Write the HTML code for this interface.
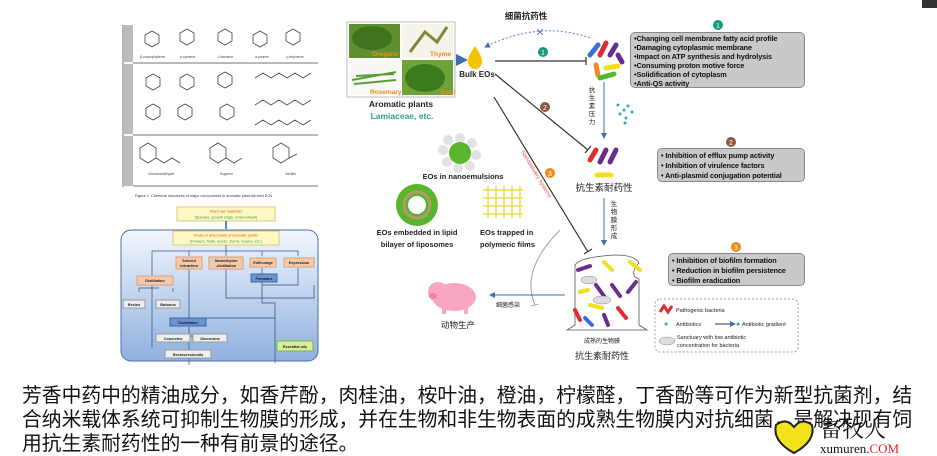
<!DOCTYPE html>
<html><head><meta charset="utf-8"><style>
body{margin:0;width:937px;height:456px;background:#fff;overflow:hidden;position:relative;font-family:"Liberation Sans","Noto Sans CJK SC",sans-serif}
.t{position:absolute;white-space:nowrap}
.box{position:absolute;background:#c9c9c9;border:1px solid #888;border-radius:5px;font:bold 7.3px "Liberation Sans",sans-serif;color:#111;line-height:9px;padding:1px 3px;box-sizing:border-box;white-space:nowrap;letter-spacing:-0.1px}
.para{position:absolute;left:22px;top:384px;width:905px;font-size:19.8px;line-height:24px;color:#111;font-family:"Liberation Sans","Noto Sans CJK SC",sans-serif}
</style></head><body>
<svg width="937" height="456" style="position:absolute;left:0;top:0" font-family="Liberation Sans, Noto Sans CJK SC, sans-serif">
<defs>
<linearGradient id="bg" x1="0" y1="0" x2="0" y2="1"><stop offset="0" stop-color="#f3f7fd"/><stop offset="1" stop-color="#8fb0de"/></linearGradient>
<marker id="ab" markerWidth="6" markerHeight="6" refX="5" refY="3" orient="auto"><path d="M0,0L6,3L0,6z" fill="#3d6fb0"/></marker>
</defs>
<g stroke="#444" fill="none" stroke-width="0.8">
<line x1="123" y1="25" x2="123" y2="187"/>
<rect x="123" y="25" width="10" height="37" fill="#bbb" stroke="none"/>
<rect x="123" y="64" width="10" height="70" fill="#bbb" stroke="none"/>
<rect x="123" y="136" width="10" height="50" fill="#bbb" stroke="none"/>
<line x1="133" y1="63" x2="318" y2="63"/><line x1="133" y1="135" x2="318" y2="135"/><line x1="133" y1="186" x2="318" y2="186"/>
<polygon points="145,35 152,31 159,35 159,43 152,47 145,43"/>
<polygon points="180,33 187,29 194,33 194,41 187,45 180,41"/>
<polygon points="218,33 225,29 232,33 232,41 225,45 218,41"/>
<polygon points="253,35 260,31 267,35 267,43 260,47 253,43"/>
<polygon points="286,33 293,29 300,33 300,41 293,45 286,41"/>
<polygon points="146,78 153,74 160,78 160,86 153,90 146,86"/>
<polygon points="180,78 187,74 194,78 194,86 187,90 180,86"/>
<polygon points="218,76 225,72 232,76 232,84 225,88 218,84"/>
<path d="M255,78 l8,-5 l8,5 l8,-5 l8,5 l8,-5 l8,5 l8,-5"/>
<polygon points="146,108 153,104 160,108 160,116 153,120 146,116"/>
<polygon points="178,108 185,104 192,108 192,116 185,120 178,116"/>
<polygon points="220,108 227,104 234,108 234,116 227,120 220,116"/>
<path d="M255,105 l8,-5 l8,5 l8,-5 l8,5 l8,-5 l8,5 l8,-5"/>
<path d="M255,125 l8,-5 l8,5 l8,-5 l8,5 l8,-5 l8,5 l8,-5"/>
<polygon points="140,148 148,143 156,148 156,158 148,163 140,158"/><path d="M156,158 l8,5 l8,-5 l8,5"/>
<polygon points="210,148 218,143 226,148 226,158 218,163 210,158"/><path d="M226,158 l8,5 l8,-5"/>
<polygon points="273,148 281,143 289,148 289,158 281,163 273,158"/><path d="M289,158 l8,-4"/>
</g>
<g font-size="3.5" fill="#444"><text x="140" y="58">β-caryophyllene</text><text x="180" y="58">p-cymene</text><text x="218" y="58">Limonene</text><text x="255" y="58">α-pinene</text><text x="286" y="58">γ-terpinene</text>
<text x="148" y="175">Cinnamaldehyde</text><text x="220" y="175">Eugenol</text><text x="285" y="175">Vanillin</text></g>
<text x="135" y="197" font-size="3.8" fill="#333">Figure 1. Chemical structures of major components in aromatic plant-derived EOs.</text>
<rect x="121" y="230" width="197" height="131" rx="10" fill="url(#bg)" stroke="#4a72aa"/>
<rect x="177" y="207" width="98" height="14" fill="#fff8c2" stroke="#d9c680"/>
<text x="226" y="212.5" font-size="3.8" fill="#d05a1a" text-anchor="middle">Plant raw materials</text>
<text x="226" y="218.5" font-size="3.8" fill="#3aa03a" text-anchor="middle">[Species, growth stage, environment]</text>
<path d="M226,221 v8" stroke="#5a7fc0" stroke-width="2"/>
<rect x="173" y="231" width="106" height="14" fill="#fff8c2" stroke="#d9c680"/>
<text x="226" y="236.5" font-size="3.8" fill="#d05a1a" text-anchor="middle">Fresh or dried parts of aromatic plants</text>
<text x="226" y="242.5" font-size="3.8" fill="#3aa03a" text-anchor="middle">[Flowers, fruits, seeds, stems, leaves, etc.]</text>
<g stroke="#2d4f86" fill="none" stroke-width="0.7">
<path d="M226,245 v6 M152,251 h146 M152,251 v97 M189,251 v5 M226,251 v5 M262,251 v5 M298,251 v5 M189,268 v97 M226,268 v30 h88 v-13 M262,268 v35 h13 v13 M298,268 v17 h-36 M275,303 v60 M139,288 h20 M139,288 v4 M173,288 v4 M200,318 h75 v30 M179,336 h35 M179,336 v4 M214,336 v4"/>
</g>
<g font-size="3.8" fill="#222" font-weight="bold" text-anchor="middle">
<rect x="176" y="257" width="26" height="12" fill="#f6c9a8" stroke="#d8a27e"/><text x="189" y="262">Solvent</text><text x="189" y="267">extraction</text>
<rect x="209" y="257" width="34" height="12" fill="#f6c9a8" stroke="#d8a27e"/><text x="226" y="262">Steam/hydro</text><text x="226" y="267">-distillation</text>
<rect x="250" y="258" width="26" height="9" fill="#f6c9a8" stroke="#d8a27e"/><text x="263" y="264">Enfleurage</text>
<rect x="284" y="258" width="30" height="9" fill="#f6c9a8" stroke="#d8a27e"/><text x="299" y="264">Expression</text>
<rect x="137" y="276" width="36" height="9" fill="#f6c9a8" stroke="#d8a27e"/><text x="155" y="282">Distillation</text>
<rect x="251" y="274" width="26" height="8" fill="#6b93d1" stroke="#3d66a6"/><text x="264" y="280">Pomades</text>
<rect x="123" y="300" width="22" height="8" fill="#eee" stroke="#999"/><text x="134" y="306">Resins</text>
<rect x="156" y="300" width="24" height="8" fill="#eee" stroke="#999"/><text x="168" y="306">Balsams</text>
<rect x="170" y="318" width="36" height="8" fill="#6b93d1" stroke="#3d66a6"/><text x="188" y="324">Distillation</text>
<rect x="156" y="334" width="34" height="8" fill="#eee" stroke="#999"/><text x="173" y="340">Concretes</text>
<rect x="193" y="334" width="34" height="8" fill="#eee" stroke="#999"/><text x="210" y="340">Oleoresins</text>
<rect x="165" y="350" width="46" height="8" fill="#eee" stroke="#999"/><text x="188" y="356">Resins/resinoids</text>
<rect x="277" y="341" width="36" height="10" fill="#d8ec9e" stroke="#7cb342"/><text x="295" y="348">Essential oils</text>
</g>
<rect x="347" y="22" width="108" height="75" fill="#fff" stroke="#bbb"/>
<rect x="349" y="24" width="51" height="34" fill="#5f8f2e"/><ellipse cx="372" cy="38" rx="20" ry="12" fill="#3f7320"/>
<rect x="402" y="24" width="51" height="34" fill="#f5f3ea"/><path d="M410,52 l15,-20 l12,10 l10,-15" stroke="#7b8a3a" stroke-width="3" fill="none"/>
<rect x="349" y="60" width="51" height="35" fill="#f7faf2"/><path d="M352,80 l44,-8 M354,84 l42,-4 M356,76 l38,-2" stroke="#5d9b3a" stroke-width="2"/>
<rect x="402" y="60" width="51" height="35" fill="#6ea33a"/><ellipse cx="425" cy="78" rx="20" ry="14" fill="#3c7a1e"/>
<g font-size="6.5" fill="#f08a24" font-weight="bold"><text x="372" y="56">Oregano</text><text x="430" y="56">Thyme</text><text x="370" y="94">Rosemary</text><text x="440" y="94">Basil</text></g>
<text x="401" y="107" font-size="8.5" fill="#222" text-anchor="middle" font-weight="bold">Aromatic plants</text>
<text x="402" y="119" font-size="8.5" fill="#2aa48a" text-anchor="middle" font-weight="bold">Lamiaceae, etc.</text>
<path d="M456,60 h10" stroke="#2f7d32" stroke-width="2" marker-end="url(#ab)"/>
<path d="M475,46 q-8,12 -7,16 a7,7 0 0 0 14,0 q1,-4 -7,-16z" fill="#f5c400"/>
<text x="477" y="77" font-size="8" fill="#222" text-anchor="middle" font-weight="bold">Bulk EOs</text>
<text x="526" y="19" font-size="8.5" fill="#222" text-anchor="middle" font-weight="bold">细菌抗药性</text>
<path d="M590,38 Q540,20 485,47" stroke="#5b7fc4" stroke-width="1" stroke-dasharray="2,2" fill="none" marker-end="url(#ab)"/>
<text x="540" y="36" font-size="11" fill="#5b7fc4" text-anchor="middle">✕</text>
<g stroke="#333" stroke-width="1.2" fill="none">
<path d="M495,61 H586 M586,57 v8"/>
<path d="M495,74 L588,150 M585,153 l6,-7"/>
<path d="M494,97 L588,252 M584,254 l8,-5"/>
</g>
<path d="M560,230 Q520,270 535,305 M531,306 l8,-2" stroke="#999" stroke-width="0.9" fill="none"/>
<circle cx="543" cy="52" r="5" fill="#129b7a"/><text x="543" y="55" font-size="7" fill="#fff" text-anchor="middle">1</text>
<circle cx="545" cy="107" r="5" fill="#8b5a3a"/><text x="545" y="110" font-size="7" fill="#fff" text-anchor="middle">2</text>
<circle cx="550" cy="173" r="5" fill="#ef8a1a"/><text x="550" y="176" font-size="7" fill="#fff" text-anchor="middle">3</text>
<text transform="translate(521,152) rotate(59)" font-size="5.5" fill="#e05050">Nanodelivery systems</text>
<g stroke-width="5" stroke-linecap="round">
<line x1="590" y1="55" x2="598" y2="45" stroke="#3a6fd8"/><line x1="600" y1="55" x2="606" y2="43" stroke="#e02c2c"/><line x1="610" y1="55" x2="616" y2="45" stroke="#6a2d8f"/>
<line x1="596" y1="65" x2="598" y2="75" stroke="#f08a24"/><line x1="606" y1="68" x2="618" y2="66" stroke="#f0e020"/><line x1="600" y1="78" x2="614" y2="74" stroke="#52b830"/><line x1="618" y1="55" x2="622" y2="62" stroke="#6a2d8f"/>
<line x1="590" y1="160" x2="596" y2="150" stroke="#e02c2c"/><line x1="600" y1="162" x2="606" y2="150" stroke="#6a2d8f"/><line x1="610" y1="162" x2="616" y2="150" stroke="#6a2d8f"/><line x1="597" y1="175" x2="611" y2="175" stroke="#f0e020"/>
</g>
<g fill="#2fa7c8"><circle cx="618" cy="105" r="1.5"/><circle cx="624" cy="110" r="1.5"/><circle cx="628" cy="106" r="1.5"/><circle cx="620" cy="114" r="1.5"/><circle cx="626" cy="118" r="1.5"/><circle cx="632" cy="112" r="1.5"/><circle cx="625" cy="123" r="1.5"/></g>
<g font-size="6.5" fill="#222" text-anchor="middle"><text x="592" y="92">抗</text><text x="592" y="100">生</text><text x="592" y="108">素</text><text x="592" y="116">压</text><text x="592" y="124">力</text>
<text x="614" y="206">生</text><text x="614" y="214">物</text><text x="614" y="222">膜</text><text x="614" y="230">形</text><text x="614" y="238">成</text></g>
<path d="M604,82 V138" stroke="#3d6fb0" stroke-width="1" marker-end="url(#ab)"/>
<path d="M604,198 V245" stroke="#3d6fb0" stroke-width="1" marker-end="url(#ab)"/>
<text x="604" y="191" font-size="9.5" fill="#222" text-anchor="middle">抗生素耐药性</text>
<path d="M567,330 l8,-5 v-60 q5,-8 40,-10 q20,0 24,8 q-8,8 -4,14 l4,2 v46 l8,5z" fill="#fff" stroke="#555" stroke-width="0.8"/>
<g stroke-width="4" stroke-linecap="round">
<line x1="578" y1="270" x2="590" y2="266" stroke="#6a2d8f"/><line x1="604" y1="262" x2="612" y2="270" stroke="#f0e020"/><line x1="596" y1="285" x2="604" y2="296" stroke="#6a2d8f"/><line x1="580" y1="292" x2="588" y2="290" stroke="#f0e020"/><line x1="612" y1="285" x2="620" y2="296" stroke="#6a2d8f"/><line x1="575" y1="310" x2="580" y2="320" stroke="#e02c2c"/><line x1="590" y1="305" x2="602" y2="308" stroke="#f0e020"/><line x1="604" y1="315" x2="608" y2="325" stroke="#6a2d8f"/><line x1="618" y1="308" x2="626" y2="318" stroke="#e02c2c"/><line x1="628" y1="292" x2="636" y2="282" stroke="#6a2d8f"/><line x1="585" y1="318" x2="592" y2="325" stroke="#3a6fd8"/><line x1="630" y1="262" x2="640" y2="270" stroke="#f0e020"/>
</g>
<ellipse cx="589" cy="280" rx="8" ry="4" fill="#ddd" stroke="#888" stroke-width="0.5"/><ellipse cx="602" cy="300" rx="9" ry="4" fill="#ddd" stroke="#888" stroke-width="0.5"/>
<text x="602" y="343" font-size="6" fill="#222" text-anchor="middle">成熟的生物膜</text>
<text x="602" y="359" font-size="9" fill="#222" text-anchor="middle">抗生素耐药性</text>
<path d="M565,295 H490" stroke="#3d6fb0" stroke-width="1" marker-end="url(#ab)"/>
<text x="508" y="307" font-size="6" fill="#222" text-anchor="middle">细菌感染</text>
<ellipse cx="454" cy="297" rx="22" ry="14" fill="#f9a6c2"/><circle cx="438" cy="292" r="10" fill="#f9a6c2"/><ellipse cx="433" cy="296" rx="4" ry="3" fill="#f27aa4"/>
<rect x="442" y="306" width="4" height="8" fill="#f9a6c2"/><rect x="464" y="306" width="4" height="8" fill="#f9a6c2"/>
<text x="458" y="328" font-size="8.5" fill="#222" text-anchor="middle">动物生产</text>
<g fill="#e2e2e2"><circle cx="460" cy="138" r="5"/><circle cx="472" cy="143" r="5"/><circle cx="476" cy="155" r="5"/><circle cx="470" cy="166" r="5"/><circle cx="458" cy="168" r="5"/><circle cx="447" cy="162" r="5"/><circle cx="443" cy="150" r="5"/><circle cx="448" cy="140" r="5"/></g>
<circle cx="460" cy="153" r="11" fill="#59b52c"/>
<text x="463" y="179" font-size="7.5" fill="#222" text-anchor="middle" font-weight="bold">EOs in nanoemulsions</text>
<circle cx="417" cy="205" r="21" fill="#59b52c"/><circle cx="417" cy="205" r="13" fill="none" stroke="#b59b6a" stroke-width="3"/><circle cx="417" cy="205" r="9" fill="#fff"/>
<text x="417" y="235" font-size="7.5" fill="#222" text-anchor="middle" font-weight="bold">EOs embedded in lipid</text>
<text x="417" y="247" font-size="7.5" fill="#222" text-anchor="middle" font-weight="bold">bilayer of liposomes</text>
<g stroke="#e8d830" stroke-width="1.3"><path d="M483,190 h40 M483,198 h40 M483,206 h40 M483,214 h40 M488,186 v32 M496,186 v32 M504,186 v32 M512,186 v32 M520,186 v32"/></g>
<text x="480" y="235" font-size="7.5" fill="#222" font-weight="bold">EOs trapped in</text>
<text x="480" y="247" font-size="7.5" fill="#222" font-weight="bold">polymeric films</text>
<rect x="655" y="299" width="143" height="53" rx="5" fill="#fff" stroke="#999" stroke-dasharray="2,2"/>
<path d="M660,312 l4,-6 l4,6 l4,-6" stroke="#e02c2c" stroke-width="3" fill="none"/>
<text x="676" y="312" font-size="5.5" fill="#222">Pathogenic bacteria</text>
<circle cx="666" cy="324" r="1.5" fill="#2fa7c8"/><text x="676" y="326" font-size="5.5" fill="#222">Antibiotics</text>
<path d="M715,324 h20" stroke="#333" marker-end="url(#ab)"/><circle cx="738" cy="324" r="1.5" fill="#2fa7c8"/><text x="742" y="326" font-size="5.5" fill="#222">Antibiotic gradient</text>
<ellipse cx="667" cy="341" rx="8" ry="4" fill="#ddd" stroke="#888" stroke-width="0.5"/>
<text x="677" y="339" font-size="5.5" fill="#222">Sanctuary with low antibiotic</text>
<text x="677" y="347" font-size="5.5" fill="#222">concentration for bacteria</text>
<circle cx="718" cy="25" r="5" fill="#129b7a"/><text x="718" y="28" font-size="7" fill="#fff" text-anchor="middle">1</text>
<circle cx="731" cy="142" r="5" fill="#8b5a3a"/><text x="731" y="145" font-size="7" fill="#fff" text-anchor="middle">2</text>
<circle cx="736" cy="247" r="5" fill="#ef8a1a"/><text x="736" y="250" font-size="7" fill="#fff" text-anchor="middle">3</text>
<rect x="922" y="0" width="15" height="8" fill="#333"/>
</svg>
<div class="box" style="left:630px;top:32px;width:175px;height:56px">•Changing cell membrane fatty acid profile<br>•Damaging cytoplasmic membrane<br>•Impact on ATP synthesis and hydrolysis<br>•Consuming proton motive force<br>•Solidification of cytoplasm<br>•Anti-QS activity</div>
<div class="box" style="left:657px;top:148px;width:148px;height:34px;line-height:10px;padding-top:2px">• Inhibition of efflux pump activity<br>• Inhibition of virulence factors<br>• Anti-plasmid conjugation potential</div>
<div class="box" style="left:668px;top:253px;width:137px;height:33px;line-height:10px;padding-top:2px">• Inhibition of biofilm formation<br>• Reduction in biofilm persistence<br>• Biofilm eradication</div>
<div class="para">芳香中药中的精油成分，如香芹酚，肉桂油，桉叶油，橙油，柠檬醛，丁香酚等可作为新型抗菌剂，结合纳米载体系统可抑制生物膜的形成，并在生物和非生物表面的成熟生物膜内对抗细菌，是解决现有饲用抗生素耐药性的一种有前景的途径。</div>
<svg width="160" height="45" style="position:absolute;left:768px;top:411px">
<path d="M8,14 q10,-8 18,2 q8,-10 18,-2 q4,16 -18,28 q-22,-12 -18,-28z" fill="#f2e21a" stroke="#222" stroke-width="2"/>
<text x="52" y="26" font-size="22" font-family="Noto Serif CJK SC, serif" fill="#111">畜牧人</text>
<text x="52" y="42" font-size="13" font-family="Liberation Serif, serif" fill="#111">xumuren.<tspan fill="#e02020">COM</tspan></text>
</svg>
</body></html>
